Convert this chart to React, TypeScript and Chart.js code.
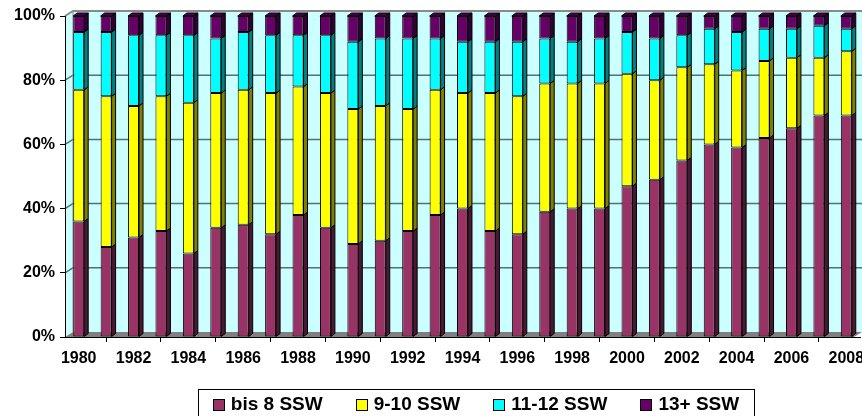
import React, { useEffect, useRef } from 'react';
import { Chart, registerables } from 'chart.js';

Chart.register(...registerables);

const years = [
  '1980', '1981', '1982', '1983', '1984', '1985', '1986', '1987', '1988', '1989',
  '1990', '1991', '1992', '1993', '1994', '1995', '1996', '1997', '1998', '1999',
  '2000', '2001', '2002', '2003', '2004', '2005', '2006', '2007', '2008',
];
const bis8 = [36, 28, 31, 33, 26, 34, 35, 32, 38, 34, 29, 30, 33, 38, 40, 33, 32, 39, 40, 40, 47, 49, 55, 60, 59, 62, 65, 69, 69];
const ssw910 = [41, 47, 41, 42, 47, 42, 42, 44, 40, 42, 42, 42, 38, 39, 36, 43, 43, 40, 39, 39, 35, 31, 29, 25, 24, 24, 22, 18, 20];
const ssw1112 = [18, 20, 22, 19, 21, 17, 18, 18, 16, 18, 21, 21, 22, 16, 16, 16, 17, 14, 13, 14, 13, 13, 10, 11, 12, 10, 9, 10, 7];
const ssw13 = [5, 5, 6, 6, 6, 7, 5, 6, 6, 6, 8, 7, 7, 7, 8, 8, 8, 7, 8, 7, 5, 7, 6, 4, 5, 4, 4, 3, 4];
const seriesNames = ['bis 8 SSW', '9-10 SSW', '11-12 SSW', '13+ SSW'];
const seriesColors = ['#993366', '#FFFF00', '#00FFFF', '#660066'];
const sideColors = ['#4a1831', '#7f7f00', '#008080', '#330033'];
const topColor = '#4d004d';

const FONT = '"Liberation Sans", Arial, sans-serif';

const wallPlugin = {
  id: 'wall3d',
  beforeDraw(chart: any) {
    const { ctx, chartArea, scales } = chart;
    const { left, right, top, bottom } = chartArea;
    const y = scales.y;
    const dx = 8, dy = 5;
    const W = chart.width;
    ctx.save();
    // back wall + side wall
    ctx.fillStyle = '#CCFFFF';
    ctx.beginPath();
    ctx.moveTo(left, top);
    ctx.lineTo(left + dx, top - dy);
    ctx.lineTo(W, top - dy);
    ctx.lineTo(W, bottom - dy);
    ctx.lineTo(left + dx, bottom - dy);
    ctx.lineTo(left, bottom);
    ctx.closePath();
    ctx.fill();
    // floor
    ctx.fillStyle = '#808080';
    ctx.beginPath();
    ctx.moveTo(left, bottom);
    ctx.lineTo(left + dx, bottom - dy);
    ctx.lineTo(right + 2, bottom - dy);
    ctx.lineTo(right - 6, bottom);
    ctx.closePath();
    ctx.fill();
    // gridlines
    y.ticks.forEach((t: any) => {
      const v = t.value;
      if (v === 0) return;
      const yy = y.getPixelForValue(v);
      ctx.beginPath();
      ctx.moveTo(left, yy);
      ctx.lineTo(left + dx, yy - dy);
      ctx.lineTo(W, yy - dy);
      if (v === 100) {
        ctx.strokeStyle = '#8a8a8a';
        ctx.lineWidth = 2;
      } else {
        ctx.strokeStyle = '#557070';
        ctx.lineWidth = 1.5;
      }
      ctx.stroke();
    });
    // side wall back edge
    ctx.strokeStyle = '#8a8a8a';
    ctx.lineWidth = 1;
    ctx.beginPath();
    ctx.moveTo(left + dx, top - dy);
    ctx.lineTo(left + dx, bottom - dy);
    ctx.stroke();
    ctx.restore();
  },
};

const barSidePlugin = {
  id: 'barSide3d',
  afterDatasetsDraw(chart: any) {
    const { ctx } = chart;
    const bdx = 4, bdy = 3;
    const last = chart.data.datasets.length - 1;
    ctx.save();
    ctx.lineWidth = 1;
    ctx.strokeStyle = '#000';
    chart.data.datasets.forEach((ds: any, di: number) => {
      const meta = chart.getDatasetMeta(di);
      meta.data.forEach((bar: any) => {
        const { x, y, base, width } = bar.getProps(['x', 'y', 'base', 'width'], true);
        const l = x - width / 2;
        const r = x + width / 2;
        const t = Math.min(y, base);
        const b = Math.max(y, base);
        ctx.fillStyle = sideColors[di];
        ctx.beginPath();
        ctx.moveTo(r, b);
        ctx.lineTo(r + bdx, b - bdy);
        ctx.lineTo(r + bdx, t - bdy);
        ctx.lineTo(r, t);
        ctx.closePath();
        ctx.fill();
        ctx.stroke();
        if (di === last) {
          ctx.fillStyle = topColor;
          ctx.beginPath();
          ctx.moveTo(l, t);
          ctx.lineTo(l + bdx, t - bdy);
          ctx.lineTo(r + bdx, t - bdy);
          ctx.lineTo(r, t);
          ctx.closePath();
          ctx.fill();
          ctx.stroke();
        }
      });
    });
    ctx.restore();
  },
};

const legendPlugin = {
  id: 'boxLegend',
  afterDraw(chart: any) {
    const { ctx } = chart;
    const boxL = 198, boxR = 754, boxT = 389;
    const cy = 405;
    const sq = 11, gapBoxText = 7, gap = 33;
    ctx.save();
    ctx.font = `bold 19px ${FONT}`;
    const items = chart.data.datasets.map((ds: any) => ({
      text: ds.label,
      color: ds.backgroundColor,
      w: sq + gapBoxText + ctx.measureText(ds.label).width,
    }));
    const total = items.reduce((a: number, it: any) => a + it.w, 0) + gap * (items.length - 1);
    let x = (boxL + boxR) / 2 - total / 2;
    ctx.fillStyle = '#FFFFFF';
    ctx.fillRect(boxL, boxT, boxR - boxL, chart.height - boxT + 10);
    ctx.strokeStyle = '#000';
    ctx.lineWidth = 1;
    ctx.strokeRect(boxL + 0.5, boxT + 0.5, boxR - boxL, 60);
    items.forEach((it: any) => {
      ctx.fillStyle = it.color;
      ctx.fillRect(Math.round(x) + 0.5, cy - 6 + 0.5, sq, sq);
      ctx.strokeRect(Math.round(x) + 0.5, cy - 6 + 0.5, sq, sq);
      ctx.fillStyle = '#000';
      ctx.textBaseline = 'middle';
      ctx.textAlign = 'left';
      ctx.fillText(it.text, x + sq + gapBoxText, cy);
      x += it.w + gap;
    });
    ctx.restore();
  },
};

export default function App() {
  const ref = useRef<HTMLCanvasElement>(null);
  useEffect(() => {
    if (!ref.current) return;
    const series = [bis8, ssw910, ssw1112, ssw13];
    const chart = new Chart(ref.current, {
      type: 'bar',
      data: {
        labels: years,
        datasets: series.map((d, i) => ({
          label: seriesNames[i],
          data: d,
          backgroundColor: seriesColors[i],
          borderColor: '#000',
          borderWidth: 1,
          borderSkipped: false,
          barPercentage: 0.4,
          categoryPercentage: 1,
        })),
      },
      options: {
        responsive: false,
        animation: false,
        devicePixelRatio: 1,
        layout: { padding: { top: 16, right: 2, left: 0, bottom: 0 } },
        plugins: { legend: { display: false }, tooltip: { enabled: false } },
        scales: {
          x: {
            stacked: true,
            offset: true,
            grid: { display: true, drawOnChartArea: false, drawTicks: true, tickLength: 5, offset: true, color: '#000' },
            border: { display: true, color: '#000', width: 1 },
            ticks: {
              autoSkip: false,
              maxRotation: 0,
              minRotation: 0,
              padding: 7,
              color: '#000',
              font: { family: FONT, size: 16, weight: 'bold' },
              callback: (_v: any, i: number) => (i % 2 === 0 ? years[i] : null),
            },
            afterFit: (s: any) => {
              s.height = 79;
              s.paddingLeft = 0;
              s.paddingRight = 0;
            },
          },
          y: {
            stacked: true,
            min: 0,
            max: 100,
            grid: { display: true, drawOnChartArea: false, drawTicks: true, tickLength: 5, color: '#000' },
            border: { display: true, color: '#000', width: 1 },
            ticks: {
              stepSize: 20,
              padding: 5,
              color: '#000',
              font: { family: FONT, size: 16, weight: 'bold' },
              callback: (v: any) => v + '%',
            },
            afterFit: (s: any) => {
              s.width = 65;
            },
          },
        },
      } as any,
      plugins: [wallPlugin, barSidePlugin, legendPlugin],
    });
    return () => chart.destroy();
  }, []);
  return (
    <div style={{ position: 'absolute', left: 0, top: 0, width: 862, height: 416, background: '#fff' }}>
      <canvas ref={ref} width={862} height={416} style={{ display: 'block' }} />
    </div>
  );
}
